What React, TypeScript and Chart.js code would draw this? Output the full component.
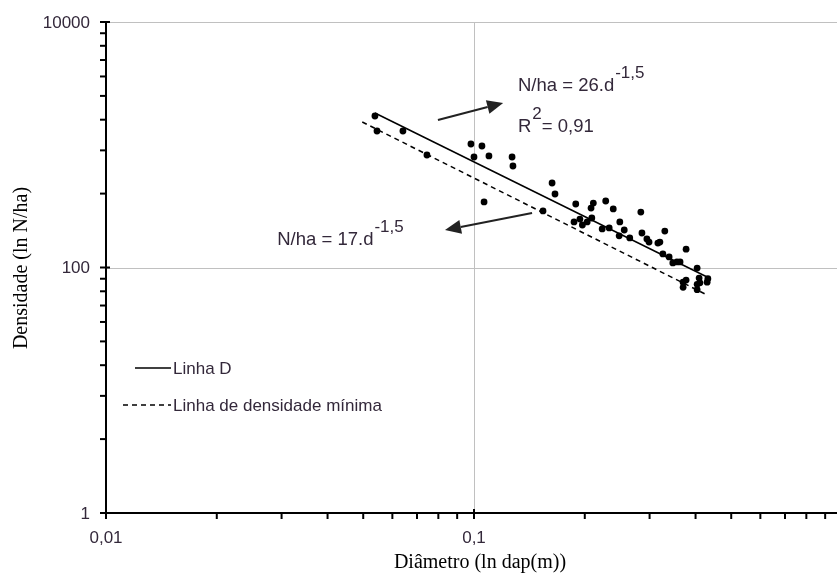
import React, { useEffect, useRef } from "react";
import { Chart, registerables } from "chart.js";

Chart.register(...registerables);

// ---- data ----
const diameters = [
  0.0538, 0.0545, 0.0641, 0.0745, 0.0981, 0.1051, 0.1, 0.1098, 0.1065, 0.1269,
  0.1276, 0.163, 0.166, 0.154, 0.189, 0.187, 0.194, 0.197, 0.203, 0.208,
  0.211, 0.209, 0.228, 0.239, 0.223, 0.233, 0.249, 0.256, 0.248, 0.265,
  0.284, 0.286, 0.295, 0.299, 0.316, 0.32, 0.33, 0.326, 0.339, 0.347,
  0.356, 0.363, 0.377, 0.404, 0.37, 0.377, 0.37, 0.409, 0.411, 0.404,
  0.404, 0.432, 0.43,
];
const densities = [
  1715, 1294, 1294, 825, 1014, 977, 795, 811, 342, 795,
  671, 488, 397, 289, 329, 235, 248, 222, 235, 305,
  335, 253, 348, 300, 206, 210, 235, 202, 181, 174,
  283, 191, 171, 161, 158, 161, 198, 129, 122, 109,
  111, 111, 141, 99, 76, 79, 69, 82, 75, 73,
  66, 81, 76,
];
const lineDX = [0.0538, 0.43];
const lineDY = [1815, 83.7];
const lineMinX = [0.0497, 0.43];
const lineMinY = [1532, 59.7];

const xMajorTicks = [0.01, 0.1, 1];
const xMajorLabels = ["0,01", "0,1", "1"];
const xMinorTicks = [0.02, 0.03, 0.04, 0.05, 0.06, 0.07, 0.08, 0.09, 0.2, 0.3, 0.4, 0.5, 0.6, 0.7, 0.8, 0.9];
const yMajorTicks = [1, 100, 10000];
const yMajorLabels = ["1", "100", "10000"];
const yMinorTicks = [4, 9, 16, 25, 36, 49, 64, 81, 400, 900, 1600, 2500, 3600, 4900, 6400, 8100];
const gridX = [0.1, 1];
const gridY = [100, 10000];

const xTitle = "Diâmetro (ln dap(m))";
const yTitle = "Densidade (ln N/ha)";

// annotations anchored in data coordinates
const annotations = [
  { x: 0.1317, y: 3010, text: "N/ha = 26.d", sup: "-1,5" },
  { x: 0.1317, y: 1395, text: "R", sup: "2", after: "= 0,91" },
  { x: 0.0292, y: 168, text: "N/ha = 17.d", sup: "-1,5" },
];
const arrows = [
  { x1: 0.0798, y1: 1592, x2: 0.12, y2: 2188 },
  { x1: 0.1438, y1: 278, x2: 0.0834, y2: 202 },
];

const TEXT = "#33283a";
const SANS = '"Liberation Sans", Arial, sans-serif';
const SERIF = '"Liberation Serif", "Times New Roman", serif';

const overlay = {
  id: "overlay",
  beforeDatasetsDraw(chart: any) {
    const { ctx, chartArea: a, scales } = chart;
    const xs = scales.x, ys = scales.y;
    ctx.save();
    ctx.strokeStyle = "#c0c0c0";
    ctx.lineWidth = 1;
    gridY.forEach((v) => {
      const py = Math.round(ys.getPixelForValue(v)) + 0.5;
      ctx.beginPath(); ctx.moveTo(a.left, py); ctx.lineTo(a.right, py); ctx.stroke();
    });
    gridX.forEach((v) => {
      const px = Math.round(xs.getPixelForValue(v)) + 0.5;
      ctx.beginPath(); ctx.moveTo(px, a.top); ctx.lineTo(px, a.bottom); ctx.stroke();
    });
    ctx.restore();
  },
  afterDatasetsDraw(chart: any) {
    const { ctx, chartArea: a, scales } = chart;
    const xs = scales.x, ys = scales.y;
    ctx.save();
    // axes
    ctx.strokeStyle = "#000";
    ctx.lineWidth = 2;
    ctx.beginPath();
    ctx.moveTo(a.left, a.top); ctx.lineTo(a.left, a.bottom); ctx.lineTo(a.right, a.bottom);
    ctx.stroke();
    // ticks
    yMajorTicks.forEach((v) => {
      const py = ys.getPixelForValue(v);
      ctx.beginPath(); ctx.moveTo(a.left - 6, py); ctx.lineTo(a.left + 4, py); ctx.stroke();
    });
    yMinorTicks.forEach((v) => {
      const py = ys.getPixelForValue(v);
      ctx.beginPath(); ctx.moveTo(a.left - 6, py); ctx.lineTo(a.left, py); ctx.stroke();
    });
    xMajorTicks.forEach((v) => {
      const px = xs.getPixelForValue(v);
      ctx.beginPath(); ctx.moveTo(px, a.bottom - 4); ctx.lineTo(px, a.bottom + 6); ctx.stroke();
    });
    xMinorTicks.forEach((v) => {
      const px = xs.getPixelForValue(v);
      ctx.beginPath(); ctx.moveTo(px, a.bottom); ctx.lineTo(px, a.bottom + 6); ctx.stroke();
    });
    // tick labels
    ctx.fillStyle = TEXT;
    ctx.font = `17px ${SANS}`;
    ctx.textAlign = "right";
    ctx.textBaseline = "middle";
    yMajorTicks.forEach((v, i) => {
      ctx.fillText(yMajorLabels[i], a.left - 16, ys.getPixelForValue(v) + 1);
    });
    ctx.textAlign = "center";
    ctx.textBaseline = "top";
    xMajorTicks.forEach((v, i) => {
      ctx.fillText(xMajorLabels[i], xs.getPixelForValue(v), a.bottom + 17);
    });
    // titles
    ctx.fillStyle = "#000";
    ctx.font = `20px ${SERIF}`;
    ctx.textBaseline = "middle";
    ctx.fillText(xTitle, 480, a.bottom + 50);
    ctx.save();
    ctx.translate(22, 268);
    ctx.rotate(-Math.PI / 2);
    ctx.fillText(yTitle, 0, 0);
    ctx.restore();
    // legend
    const ds = chart.data.datasets;
    const legendItems = [ds[1], ds[2]];
    const legendY = [368, 405];
    const lineStart = [135, 123];
    ctx.font = `17px ${SANS}`;
    ctx.textAlign = "left";
    legendItems.forEach((d: any, i: number) => {
      ctx.save();
      ctx.strokeStyle = d.borderColor;
      ctx.lineWidth = 1.5;
      ctx.setLineDash(d.borderDash || []);
      ctx.beginPath(); ctx.moveTo(lineStart[i], legendY[i]); ctx.lineTo(171, legendY[i]); ctx.stroke();
      ctx.restore();
      ctx.fillStyle = TEXT;
      ctx.fillText(d.label, 173, legendY[i] + 1);
    });
    // arrows
    ctx.strokeStyle = "#222";
    ctx.fillStyle = "#222";
    ctx.lineWidth = 2;
    arrows.forEach((ar) => {
      const x1 = xs.getPixelForValue(ar.x1), y1 = ys.getPixelForValue(ar.y1);
      const x2 = xs.getPixelForValue(ar.x2), y2 = ys.getPixelForValue(ar.y2);
      const ang = Math.atan2(y2 - y1, x2 - x1);
      const hl = 16, hw = 7;
      const bx = x2 - hl * Math.cos(ang), by = y2 - hl * Math.sin(ang);
      ctx.beginPath(); ctx.moveTo(x1, y1); ctx.lineTo(bx, by); ctx.stroke();
      ctx.beginPath();
      ctx.moveTo(x2, y2);
      ctx.lineTo(bx + hw * Math.sin(ang), by - hw * Math.cos(ang));
      ctx.lineTo(bx - hw * Math.sin(ang), by + hw * Math.cos(ang));
      ctx.closePath(); ctx.fill();
    });
    // annotation texts
    ctx.fillStyle = TEXT;
    ctx.textBaseline = "middle";
    ctx.textAlign = "left";
    annotations.forEach((an: any) => {
      let px = xs.getPixelForValue(an.x);
      const py = ys.getPixelForValue(an.y);
      ctx.font = `18.5px ${SANS}`;
      ctx.fillText(an.text, px, py);
      px += ctx.measureText(an.text).width;
      ctx.font = `17px ${SANS}`;
      ctx.fillText(an.sup, px + 1, py - 13);
      px += ctx.measureText(an.sup).width + 1;
      if (an.after) {
        ctx.font = `18.5px ${SANS}`;
        ctx.fillText(an.after, px, py);
      }
    });
    ctx.restore();
  },
};

export default function App() {
  const ref = useRef<HTMLCanvasElement | null>(null);
  useEffect(() => {
    if (!ref.current) return;
    const chart = new Chart(ref.current, {
      type: "scatter",
      data: {
        datasets: [
          {
            label: "Dados",
            data: diameters.map((d, i) => ({ x: d, y: densities[i] })),
            backgroundColor: "#000",
            borderColor: "#000",
            pointRadius: 3.4,
            pointBorderWidth: 0,
            showLine: false,
            order: 0,
          },
          {
            label: "Linha D",
            data: lineDX.map((d, i) => ({ x: d, y: lineDY[i] })),
            borderColor: "#000",
            borderWidth: 1.5,
            pointRadius: 0,
            showLine: true,
            order: 1,
          },
          {
            label: "Linha de densidade mínima",
            data: lineMinX.map((d, i) => ({ x: d, y: lineMinY[i] })),
            borderColor: "#000",
            borderWidth: 1.5,
            borderDash: [5, 4],
            pointRadius: 0,
            showLine: true,
            order: 2,
          },
        ],
      },
      options: {
        responsive: false,
        animation: false,
        layout: { padding: { left: 106, top: 22, right: 8, bottom: 62 } },
        scales: {
          x: { type: "logarithmic", min: 0.01, max: 1, display: false },
          y: { type: "logarithmic", min: 1, max: 10000, display: false },
        },
        plugins: { legend: { display: false }, tooltip: { enabled: false } },
      },
      plugins: [overlay],
    });
    return () => chart.destroy();
  }, []);
  return (
    <div style={{ position: "fixed", left: 0, top: 0, width: 837, height: 575, overflow: "hidden", background: "#fff" }}>
      <canvas ref={ref} width={850} height={575} style={{ display: "block" }} />
    </div>
  );
}
